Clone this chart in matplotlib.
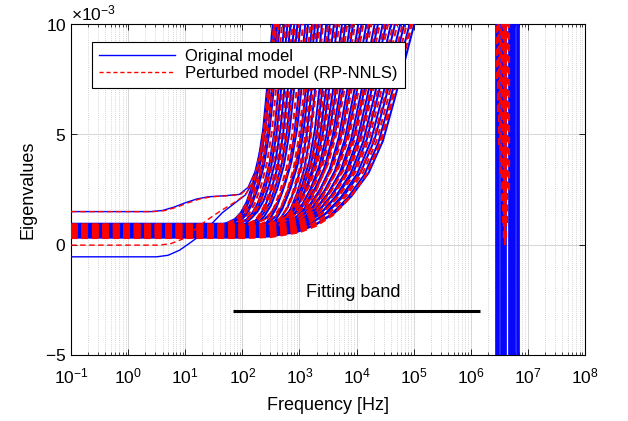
import numpy as np
import matplotlib
matplotlib.use("Agg")
import matplotlib.pyplot as plt
from matplotlib.ticker import ScalarFormatter, LogLocator, NullFormatter, FixedLocator

plt.rcParams['font.family'] = ['Liberation Sans', 'DejaVu Sans']
plt.rcParams['mathtext.fontset'] = 'custom'
plt.rcParams['mathtext.rm'] = 'Liberation Sans'
plt.rcParams['mathtext.it'] = 'Liberation Sans:italic'

# ---------------- data (eigenvalues in units of 1e-3, frequencies as log10(Hz)) -------------
x_tick_exponents = [-1, 0, 1, 2, 3, 4, 5, 6, 7, 8]
y_ticks = [-5, 0, 5, 10]

# Rise profile:
# offset of log10(f) from the point where the curve leaves the top of the plot, increment above plateau
profile_off = [-3.0, -2.5, -2.0, -1.7, -1.4, -1.1, -0.8, -0.55, -0.35, -0.15, 0.0, 0.15]
profile_inc = [0.0, 0.05, 0.26, 0.55, 1.03, 1.8, 2.85, 4.3, 6.15, 8.1, 9.6, 12.0]

# Per-eigenvalue: low-frequency plateau, log10 f where it leaves the top (1e-2), steepness width
blue_left_v0  = [0.90, 0.84, 0.93, 0.78, 0.88, 0.70, 0.95, 0.66, 0.86, 0.74, 0.62, 0.90, 0.58, 0.80, 0.68, 0.55]
blue_left_top = [2.55, 2.59, 2.63, 2.67, 2.75, 2.80, 2.86, 2.92, 2.98, 3.03, 3.11, 3.17, 3.23, 3.29, 3.34, 3.40]
blue_left_w   = [0.34, 0.35, 0.33, 0.36, 0.34, 0.37, 0.35, 0.38, 0.36, 0.38, 0.37, 0.39, 0.38, 0.40, 0.39, 0.40]

red_left_v0  = [0.87, 0.91, 0.81, 0.85, 0.72, 0.92, 0.68, 0.83, 0.77, 0.64, 0.88, 0.60, 0.82, 0.56, 0.72, 0.52]
red_left_top = [2.57, 2.61, 2.65, 2.71, 2.77, 2.83, 2.89, 2.95, 3.01, 3.07, 3.14, 3.20, 3.26, 3.31, 3.37, 3.42]
red_left_w   = [0.35, 0.34, 0.36, 0.35, 0.37, 0.36, 0.37, 0.37, 0.39, 0.37, 0.38, 0.38, 0.40, 0.39, 0.40, 0.41]

blue_right_v0  = [0.92, 0.85, 0.78, 0.90, 0.70, 0.83, 0.62, 0.88, 0.56, 0.75, 0.50, 0.68, 0.45, 0.60, 0.42, 0.53, 0.38, 0.48, 0.35, 0.44, 0.32, 0.40]
blue_right_top = [3.49, 3.55, 3.62, 3.69, 3.76, 3.83, 3.90, 3.97, 4.04, 4.11, 4.18, 4.25, 4.32, 4.39, 4.46, 4.53, 4.60, 4.68, 4.76, 4.84, 4.92, 5.01]
blue_right_w   = [0.40, 0.43, 0.46, 0.49, 0.52, 0.55, 0.58, 0.61, 0.64, 0.67, 0.70, 0.73, 0.76, 0.79, 0.82, 0.85, 0.88, 0.91, 0.94, 0.96, 0.98, 1.00]

red_right_v0  = [0.88, 0.82, 0.74, 0.86, 0.66, 0.80, 0.59, 0.84, 0.53, 0.72, 0.47, 0.65, 0.43, 0.57, 0.40, 0.50, 0.36, 0.46, 0.33, 0.42, 0.30, 0.38]
red_right_top = [3.52, 3.58, 3.65, 3.72, 3.79, 3.86, 3.93, 4.00, 4.07, 4.14, 4.21, 4.28, 4.35, 4.42, 4.49, 4.56, 4.64, 4.72, 4.80, 4.88, 4.94, 4.97]
red_right_w   = [0.41, 0.44, 0.47, 0.50, 0.53, 0.56, 0.59, 0.62, 0.65, 0.68, 0.71, 0.74, 0.77, 0.80, 0.83, 0.86, 0.89, 0.92, 0.94, 0.96, 0.97, 0.98]

# Individually traced low-frequency eigenvalues (log10 f knots, value x1e-3)
blue_hi_logf = [-1, 0.40, 0.60, 0.80, 1.00, 1.20, 1.40, 1.70, 1.95, 2.10, 2.22, 2.32, 2.42, 2.50, 2.56]
blue_hi_val  = [1.5, 1.5, 1.55, 1.70, 1.90, 2.07, 2.17, 2.22, 2.28, 2.6, 3.3, 4.4, 6.2, 8.2, 10.0]
red_hi_logf  = [-1, 0.45, 0.65, 0.85, 1.05, 1.25, 1.45, 1.75, 1.97, 2.11, 2.23, 2.33, 2.43, 2.51, 2.57]
red_hi_val   = [1.5, 1.5, 1.55, 1.70, 1.90, 2.07, 2.17, 2.22, 2.28, 2.6, 3.3, 4.4, 6.2, 8.2, 10.0]
blue_lo_logf = [-1, 0.50, 0.70, 0.90, 1.05, 1.20, 1.35, 1.50, 1.65, 1.85, 2.05, 2.20, 2.32, 2.42, 2.50, 2.58]
blue_lo_val  = [-0.55, -0.55, -0.48, -0.25, 0.02, 0.30, 0.65, 1.05, 1.45, 1.85, 2.25, 2.9, 4.0, 5.7, 7.7, 10.0]
red_lo_logf  = [-1, 0.55, 0.75, 0.95, 1.10, 1.25, 1.40, 1.60, 1.85, 2.05, 2.20, 2.32, 2.42, 2.50, 2.58]
red_lo_val   = [-0.02, -0.02, 0.05, 0.25, 0.55, 0.85, 1.15, 1.5, 1.9, 2.25, 2.9, 4.0, 5.7, 7.7, 10.0]

# Resonance near 3-7 MHz: eigenvalues sweep through the full range
blue_res_logf = [6.44, 6.46, 6.48, 6.50, 6.52, 6.54, 6.56, 6.58, 6.60, 6.62,
                 6.66, 6.68, 6.70, 6.72, 6.74, 6.76, 6.78, 6.80, 6.82, 6.84]
red_res_logf   = [6.46, 6.48, 6.50, 6.52, 6.54, 6.56, 6.58, 6.60, 6.62, 6.64, 6.66]
red_res_bottom = [7.5, 6.0, 4.5, 3.2, 2.0, 1.0, 0.3, 0.0, 0.3, 1.0, 2.5]

# Fitting band
band_f = [68.0, 1.45e6]
band_level = -3.0

# ---------------- figure ----------------
fig = plt.figure(figsize=(6.28, 4.21), dpi=100)
ax = fig.add_axes([0.1131, 0.1568, 0.8185, 0.786])

BLUE = (0, 0, 1)
RED = (1, 0, 0)
S = 1e-3
dash = (3.2, 2.0)
poff = np.array(profile_off)
pinc = np.array(profile_inc)

def plot_group(v0, top, w, **kw):
    for i in range(len(v0)):
        lf = np.concatenate([[-1.0], top[i] + w[i] * poff])
        vv = np.concatenate([[v0[i]], v0[i] + pinc]) * S
        ax.plot(10 ** lf, vv, **kw)

bkw = dict(color=BLUE, lw=1.45, solid_capstyle='butt', solid_joinstyle='round', zorder=3)
rkw = dict(color=RED, lw=1.45, linestyle=(0, dash), dash_capstyle='butt', zorder=4)
bkw1 = dict(bkw, lw=1.0)
rkw1 = dict(rkw, lw=1.0, linestyle=(0, (4.0, 2.5)))

plot_group(blue_left_v0, blue_left_top, blue_left_w, **bkw)
plot_group(blue_right_v0, blue_right_top, blue_right_w, **bkw)
ax.plot(10 ** np.array(blue_hi_logf), np.array(blue_hi_val) * S, **bkw1)
ax.plot(10 ** np.array(blue_lo_logf), np.array(blue_lo_val) * S, **bkw1)
ax.vlines(10 ** np.array(blue_res_logf), -5 * S, 10 * S, color=BLUE, lw=1.2, zorder=3)

plot_group(red_left_v0, red_left_top, red_left_w, **rkw)
plot_group(red_right_v0, red_right_top, red_right_w, **rkw)
ax.plot(10 ** np.array(red_hi_logf), np.array(red_hi_val) * S, **rkw1)
ax.plot(10 ** np.array(red_lo_logf), np.array(red_lo_val) * S, **rkw1)
ax.vlines(10 ** np.array(red_res_logf), np.array(red_res_bottom) * S, 10 * S,
          color=RED, lw=1.6, linestyles=[(0, dash)], zorder=4)

# legend proxies
hb, = ax.plot([], [], color=BLUE, lw=1.0, label='Original model')
hr, = ax.plot([], [], color=RED, lw=1.0, linestyle=(0, (3.0, 2.0)), label='Perturbed model (RP-NNLS)')

# fitting band
ax.plot(band_f, [band_level * S] * 2, color='black', lw=2.2, solid_capstyle='butt', zorder=6)
ax.text(10 ** 3.95, -2.15 * S, 'Fitting band', ha='center', va='center', fontsize=13, zorder=6)

ax.set_xscale('log')
ax.set_xlim(1e-1, 1e8)
ax.set_ylim(-5 * S, 10 * S)
ax.xaxis.set_major_locator(FixedLocator([10.0 ** e for e in x_tick_exponents]))
ax.xaxis.set_minor_locator(LogLocator(base=10, subs=np.arange(2, 10), numticks=100))
ax.xaxis.set_minor_formatter(NullFormatter())
ax.yaxis.set_major_locator(FixedLocator([t * S for t in y_ticks]))
fmt = ScalarFormatter(useMathText=True)
fmt.set_powerlimits((-3, -3))
ax.yaxis.set_major_formatter(fmt)
ax.yaxis.get_offset_text().set_fontsize(12.5)

ax.grid(True, which='major', color='#d0d0d0', lw=0.6, zorder=0)
ax.grid(True, which='minor', axis='x', color='#c8c8c8', lw=0.6, linestyle=(0, (1, 1.5)), zorder=0)
ax.set_axisbelow(True)

ax.tick_params(which='both', direction='in', top=True, right=True, labelsize=12.5)
ax.tick_params(axis='x', which='major', pad=8)
ax.tick_params(which='major', length=4, width=0.6)
ax.tick_params(which='minor', length=2.5, width=0.5)
for sp in ax.spines.values():
    sp.set_linewidth(0.8)

ax.set_xlabel('Frequency [Hz]', fontsize=13, labelpad=8)
ax.set_ylabel('Eigenvalues', fontsize=13, labelpad=6)

leg = ax.legend(handles=[hb, hr], loc='upper left', bbox_to_anchor=(0.041, 0.946),
                borderaxespad=0, fontsize=12, handlelength=4.6, frameon=True,
                fancybox=False, edgecolor='black', framealpha=1, borderpad=0.4,
                labelspacing=0.15, handletextpad=0.6)
leg.get_frame().set_linewidth(0.8)
leg.set_zorder(10)

fig.savefig('out.png', dpi=100)
